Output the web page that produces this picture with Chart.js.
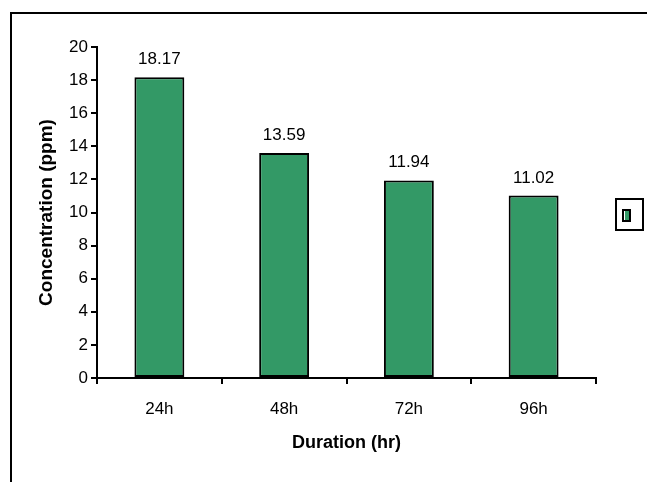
<!DOCTYPE html>
<html>
<head>
<meta charset="utf-8">
<script src="https://cdn.jsdelivr.net/npm/chart.js@4/dist/chart.umd.min.js"></script>
<style>
  html, body { margin: 0; padding: 0; background: #ffffff; }
  #wrap { width: 647px; height: 482px; }
</style>
</head>
<body>
<div id="wrap"><canvas id="c" width="647" height="482"></canvas></div>
<script>
// Concentration measured after each exposure duration
const categories = ['24h', '48h', '72h', '96h'];
const concentration = [18.17, 13.59, 11.94, 11.02];
const yTicks = [0, 2, 4, 6, 8, 10, 12, 14, 16, 18, 20];

const BAR_GREEN = '#339966';
const FONT = 'Liberation Sans, Arial, sans-serif';

// white background, outer frame, value labels and the small legend key
const decor = {
  id: 'decor',
  beforeDraw(chart) {
    const ctx = chart.ctx;
    ctx.save();
    ctx.fillStyle = '#ffffff';
    ctx.fillRect(0, 0, chart.width, chart.height);
    ctx.fillStyle = '#000000';
    ctx.fillRect(10, 12, chart.width - 10, 2);
    ctx.fillRect(10, 12, 2, chart.height - 12);
    ctx.restore();
  },
  afterDatasetsDraw(chart) {
    const ctx = chart.ctx;
    const meta = chart.getDatasetMeta(0);
    const ds = chart.data.datasets[0];
    ctx.save();
    ctx.fillStyle = '#000000';
    ctx.font = '17px ' + FONT;
    ctx.textAlign = 'center';
    ctx.textBaseline = 'alphabetic';
    meta.data.forEach((bar, i) => {
      ctx.fillText(ds.data[i].toFixed(2), bar.x, bar.y - 13);
    });
    // legend key box
    ctx.lineWidth = 2;
    ctx.strokeStyle = '#000000';
    ctx.strokeRect(616, 199, 27, 31);
    ctx.fillStyle = '#000000';
    ctx.fillRect(622, 209, 9, 13);
    ctx.fillStyle = '#ffffff';
    ctx.fillRect(624, 211, 5, 9);
    ctx.fillStyle = ds.backgroundColor;
    ctx.fillRect(625, 211, 4, 9);
    ctx.restore();
  }
};

new Chart(document.getElementById('c'), {
  type: 'bar',
  data: {
    labels: categories,
    datasets: [{
      label: '',
      data: concentration,
      backgroundColor: BAR_GREEN,
      borderColor: '#000000',
      borderWidth: 2,
      borderSkipped: false,
      categoryPercentage: 1.0,
      barPercentage: 0.4
    }]
  },
  options: {
    responsive: false,
    animation: false,
    devicePixelRatio: 1,
    layout: { padding: { left: 30, right: 51, top: 47, bottom: 0 } },
    plugins: {
      legend: { display: false },
      tooltip: { enabled: false }
    },
    scales: {
      x: {
        grid: {
          display: true,
          offset: true,
          drawOnChartArea: false,
          drawTicks: true,
          tickLength: 6,
          color: '#000000',
          lineWidth: 2
        },
        border: { display: true, color: '#000000', width: 2 },
        ticks: {
          color: '#000000',
          font: { family: FONT, size: 17 },
          padding: 15,
          maxRotation: 0
        },
        title: {
          display: true,
          text: 'Duration (hr)',
          color: '#000000',
          font: { family: FONT, size: 18, weight: 'bold' },
          padding: { top: 0, bottom: 28 }
        },
        afterFit(scale) { scale.height = 104; }
      },
      y: {
        min: 0,
        max: 20,
        afterBuildTicks(scale) { scale.ticks = yTicks.map(v => ({ value: v })); },
        grid: {
          display: true,
          drawOnChartArea: false,
          drawTicks: true,
          tickLength: 6,
          color: '#000000',
          lineWidth: 2
        },
        border: { display: true, color: '#000000', width: 2 },
        ticks: {
          color: '#000000',
          font: { family: FONT, size: 17 },
          padding: 3
        },
        title: {
          display: true,
          text: 'Concentration (ppm)',
          color: '#000000',
          font: { family: FONT, size: 19, weight: 'bold' },
          padding: { top: 5, bottom: 0 }
        },
        afterFit(scale) { scale.width = 67; }
      }
    }
  },
  plugins: [decor]
});
</script>
</body>
</html>
